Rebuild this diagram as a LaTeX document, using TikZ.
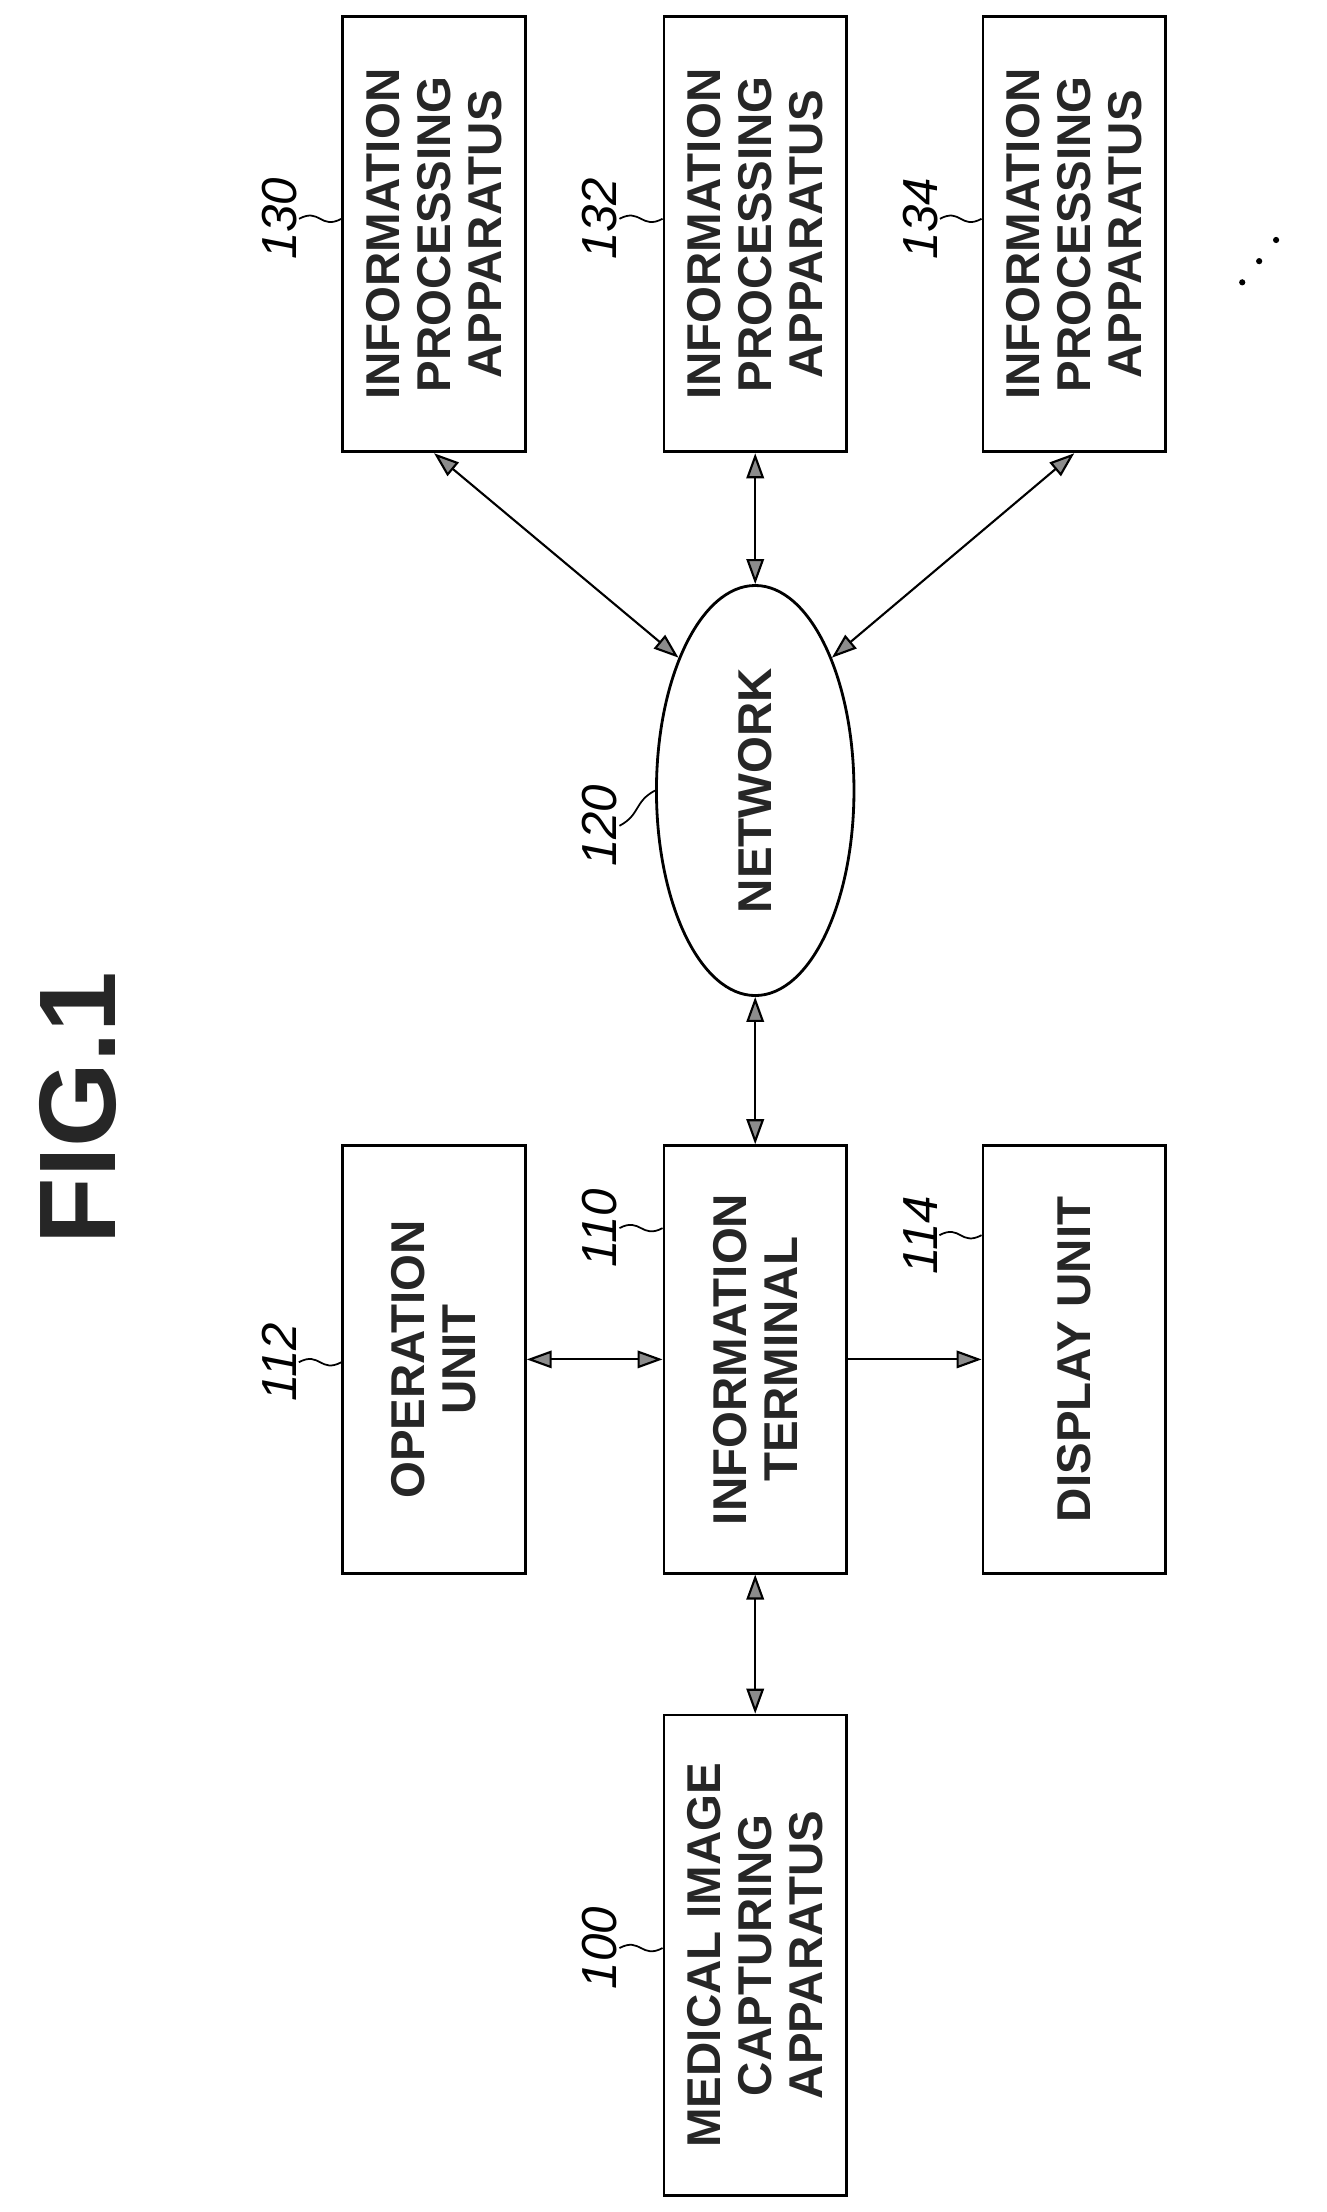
\documentclass[tikz,border=0pt]{standalone}
\usepackage{fontspec}
\setmainfont{Liberation Sans}
\usetikzlibrary{arrows.meta,positioning,shapes.geometric}
\tikzset{
  block/.style={draw,line width=1.6pt,rotate=90,align=center,inner sep=0pt,
    font=\fontsize{27}{29}\selectfont\bfseries,text=black!85},
  hbox/.style={block,minimum width=8.7cm,minimum height=3.65cm},
  lbox/.style={block,minimum width=8.55cm,minimum height=3.65cm},
  ref/.style={rotate=90,font=\fontsize{28}{30}\selectfont\itshape,inner sep=1pt},
  link/.style={line width=1.2pt,{Triangle[length=5mm,width=3.5mm,fill=black!45]}-{Triangle[length=5mm,width=3.5mm,fill=black!45]}},
  lead/.style={line width=1pt}
}
\begin{document}
\begin{tikzpicture}[x=0.028234cm,y=-0.028234cm]
\useasboundingbox (0,0) rectangle (940,1567);
% title
\node[rotate=90,font=\fontsize{62}{62}\selectfont\bfseries,text=black!85] (fig) at (55,785) {FIG.1};

% processing apparatuses
\node[hbox] (p130) at (307.5,166) {INFORMATION\\PROCESSING\\APPARATUS};
\node[hbox] (p132) at (535,166) {INFORMATION\\PROCESSING\\APPARATUS};
\node[hbox] (p134) at (761,166) {INFORMATION\\PROCESSING\\APPARATUS};

% network
\node[draw,line width=1.6pt,ellipse,minimum width=3.95cm,minimum height=8.2cm,
  font=\fontsize{27}{29}\selectfont\bfseries,text=black!85] (net) at (535,560) {\rotatebox{90}{NETWORK}};

% lower row
\node[lbox] (ops) at (307.5,963) {OPERATION\\UNIT};
\node[lbox] (term) at (535,963) {INFORMATION\\TERMINAL};
\node[lbox] (disp) at (761,963) {DISPLAY UNIT};
\node[block,minimum width=9.6cm,minimum height=3.65cm] (med) at (535,1385) {MEDICAL IMAGE\\CAPTURING\\APPARATUS};

% reference numerals
\node[ref] (r130) at (198,155) {130};
\node[ref] (r132) at (425,155) {132};
\node[ref] (r134) at (652,155) {134};
\node[ref] (r120) at (425,585) {120};
\node[ref] (r112) at (198,965) {112};
\node[ref] (r110) at (425,870) {110};
\node[ref] (r114) at (652,875) {114};
\node[ref] (r100) at (425,1380) {100};

\foreach \r/\b in {r130/p130,r132/p132,r134/p134,r112/ops,r110/term,r114/disp,r100/med}
  \draw[lead] (\r.south) .. controls +(15,-8) and +(-15,8) .. (\r.south -| \b.north);
\draw[lead] (r120.south) .. controls +(15,-8) and +(-15,8) .. (net.west);

% connections
\draw[link] (p130.west) -- (net.120);
\draw[link] (p132.west) -- (net.north);
\draw[link] (p134.west) -- (net.60);
\draw[link] (net.south) -- (term.east);
\draw[link] (ops.south) -- (term.north);
\draw[line width=1.2pt,-{Triangle[length=5mm,width=3.5mm,fill=black!45]}] (term.south) -- (disp.north);
\draw[link] (term.west) -- (med.east);

% more apparatuses
\foreach \d in {0,1,2} \fill (880+12*\d,200-15*\d) circle (2.2);
\end{tikzpicture}
\end{document}
